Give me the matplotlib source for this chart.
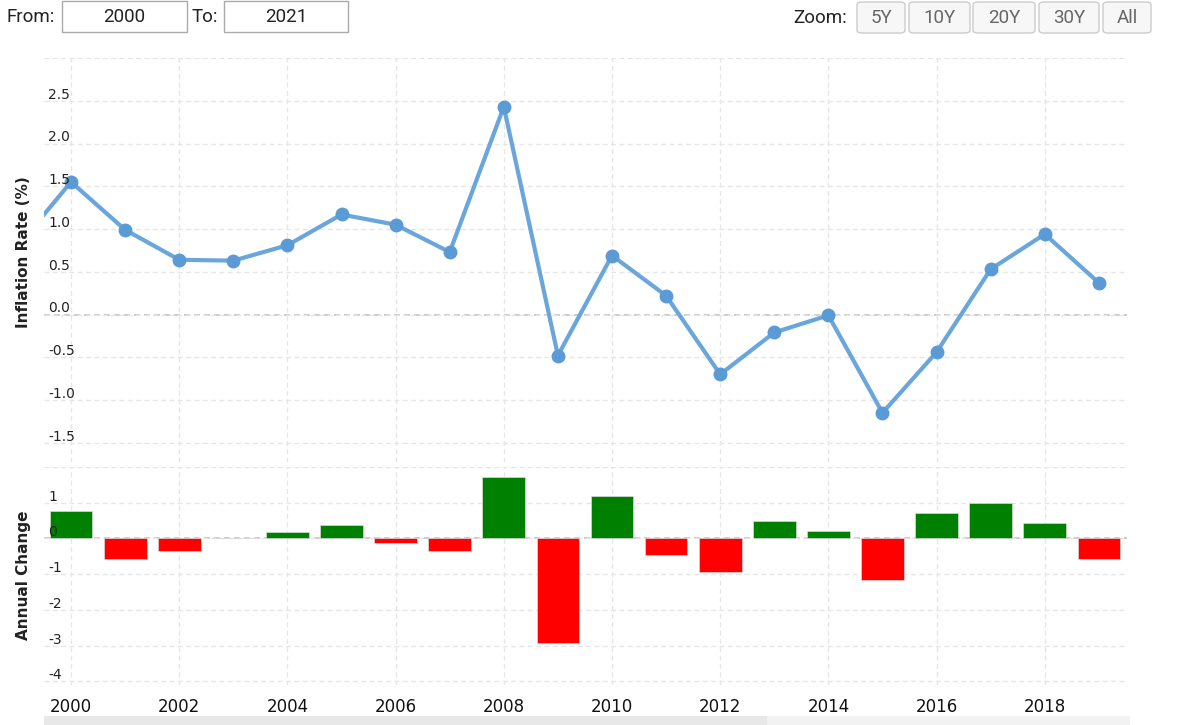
import matplotlib.pyplot as plt
from matplotlib.patches import Rectangle, FancyBboxPatch

# data
years = list(range(1999, 2020))
inflation = [0.79, 1.55, 0.99, 0.64, 0.63, 0.81, 1.17, 1.05, 0.73, 2.43, -0.48,
             0.69, 0.22, -0.70, -0.21, -0.01, -1.15, -0.44, 0.53, 0.94, 0.37]
change_years = list(range(2000, 2020))
change = [0.77, -0.57, -0.36, 0.02, 0.19, 0.38, -0.12, -0.34, 1.71, -2.93,
          1.18, -0.47, -0.94, 0.50, 0.21, -1.16, 0.71, 0.98, 0.43, -0.58]
top_ticks = [-1.5, -1.0, -0.5, 0.0, 0.5, 1.0, 1.5, 2.0, 2.5, 3.0]
top_labels = ['-1.5', '-1.0', '-0.5', '0.0', '0.5', '1.0', '1.5', '2.0', '2.5', '']
bot_ticks = [-4, -3, -2, -1, 0, 1, 2]
bot_labels = ['-4', '-3', '-2', '-1', '0', '1', '']
x_ticks = list(range(2000, 2019, 2))
zoom_buttons = ['5Y', '10Y', '20Y', '30Y', 'All']

W, H = 1183, 725
fig = plt.figure(figsize=(W / 100, H / 100), dpi=100)


def box(x0, y0, x1, y1):
    # pixel box (top-left origin) -> figure fraction rect
    return [x0 / W, 1 - y1 / H, (x1 - x0) / W, (y1 - y0) / H]


ax1 = fig.add_axes(box(44, 58, 1127, 462))
ax2 = fig.add_axes(box(44, 467, 1127, 685))

dash = (0, (3.5, 2.5))
for ax in (ax1, ax2):
    for s in ax.spines.values():
        s.set_visible(False)
    ax.set_xlim(1999.5, 2019.52)
    ax.set_xticks(x_ticks)
    ax.grid(True, color='#e6e6e6', lw=1, ls=dash, zorder=0)
    ax.tick_params(length=0)
    ax.set_yticklabels([])

# top panel
ax1.set_ylim(-1.725, 3.0)
ax1.set_yticks(top_ticks)
ax1.tick_params(labelbottom=False)
ax1.axhline(0, color='#c4c4c4', lw=1.2, ls=dash, zorder=1)
ax1.plot(years, inflation, color='#6aa6dc', lw=3, marker='o', ms=9,
         mfc='#5b9bd5', mec='#5b9bd5', zorder=3)
for v, lbl in zip(top_ticks, top_labels):
    ax1.annotate(lbl, xy=(0, v), xycoords=('axes fraction', 'data'),
                 xytext=(3, 1.5), textcoords='offset points', ha='left',
                 va='baseline', fontsize=10, color='#222222', zorder=5)

# bottom panel
ax2.set_ylim(-4.1, 2.0)
ax2.set_yticks(bot_ticks)
ax2.axhline(0, color='#c4c4c4', lw=1.2, ls=dash, zorder=1)
colors = ['#008000' if c >= 0 else '#ff0000' for c in change]
ax2.bar(change_years, change, width=0.79, color=colors, edgecolor='#d9d9d9',
        lw=0.5, zorder=3)
for v, lbl in zip(bot_ticks, bot_labels):
    ax2.annotate(lbl, xy=(0, v), xycoords=('axes fraction', 'data'),
                 xytext=(3, 1.5), textcoords='offset points', ha='left',
                 va='baseline', fontsize=10, color='#222222', zorder=5)
ax2.set_xticklabels([str(y) for y in x_ticks])
ax2.tick_params(axis='x', pad=9, labelsize=12, labelcolor='#111111')

# axis titles
fig.text(24 / W, 1 - 252 / H, 'Inflation Rate (%)', rotation=90, ha='center',
         va='center', fontsize=11, fontweight='bold', color='#222222')
fig.text(24 / W, 1 - 575 / H, 'Annual Change', rotation=90, ha='center',
         va='center', fontsize=11, fontweight='bold', color='#222222')

# range selector header
hdr = dict(family='Roboto', fontsize=13.5, va='center')
fig.text(7 / W, 1 - 17 / H, 'From:', ha='left', color='#222222', **hdr)
fig.text(192 / W, 1 - 17 / H, 'To:', ha='left', color='#222222', **hdr)
for (x0, x1), txt in zip([(62, 187), (224, 348)], ['2000', '2021']):
    fig.patches.append(Rectangle((x0 / W, 1 - 32 / H), (x1 - x0) / W, 31 / H,
                                 transform=fig.transFigure, fc='white',
                                 ec='#aaaaaa', lw=1))
    fig.text((x0 + x1) / 2 / W, 1 - 17 / H, txt, ha='center', color='#222222', **hdr)

fig.text(793 / W, 1 - 18 / H, 'Zoom:', ha='left', color='#222222', **hdr)
for (x0, x1), txt in zip([(857, 905), (909, 970), (973, 1035), (1039, 1099), (1103, 1151)],
                         zoom_buttons):
    fig.patches.append(FancyBboxPatch((x0 / W, 1 - 33 / H), (x1 - x0) / W, 31 / H,
                                      boxstyle='round,pad=0,rounding_size=0.004',
                                      transform=fig.transFigure, fc='#f7f7f7',
                                      ec='#cccccc', lw=1))
    fig.text((x0 + x1) / 2 / W, 1 - 18 / H, txt, ha='center', color='#666666', **hdr)

# scrollbar strip at the bottom
fig.patches.append(Rectangle((44 / W, 0), (1130 - 44) / W, 9 / H,
                             transform=fig.transFigure, fc='#f2f2f2', ec='none'))
fig.patches.append(Rectangle((44 / W, 0), (767 - 44) / W, 9 / H,
                             transform=fig.transFigure, fc='#e8e8e8', ec='none'))

fig.savefig('out.png', dpi=100)
